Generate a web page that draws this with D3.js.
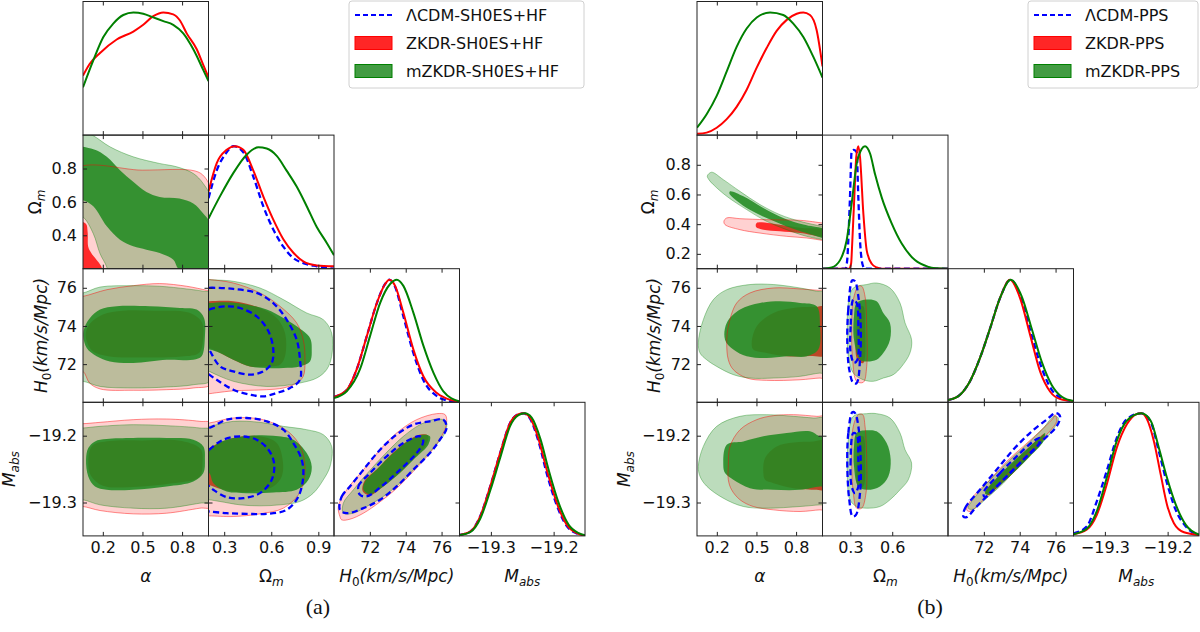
<!DOCTYPE html>
<html>
  <head>
    <meta charset="utf-8">
    <title>Triangle plots: LCDM, ZKDR and mZKDR</title>
    <script src="https://d3js.org/d3.v7.min.js"></script>
    <style>
      body { margin: 0; background: #fff; }
      svg { display: block; }
      .tick line { stroke: #222; }
      .tick text { fill: #111; }
    </style>
  </head>
  <body>
    <svg id="chart" width="1200" height="632"></svg>
    <script>
      // ---------- axes ----------
      const domA = [[0.05, 1.0], [0.2, 1.0], [70, 77], [-19.35, -19.15]];
      const domB = [[0.05, 1.0], [0.1, 1.0], [70, 77], [-19.35, -19.15]];
      const xTicksA = [[0.2, 0.5, 0.8], [0.3, 0.6, 0.9], [72, 74, 76], [-19.3, -19.2]];
      const yTicksA = [[], [0.4, 0.6, 0.8], [72, 74, 76], [-19.3, -19.2]];
      const xTicksB = [[0.2, 0.5, 0.8], [0.3, 0.6], [72, 74, 76], [-19.3, -19.2]];
      const yTicksB = [[], [0.2, 0.4, 0.6, 0.8], [72, 74, 76], [-19.3, -19.2]];
      const tickFmt = [".1f", ".1f", "d", ".1f"];
      const legendA = ["ΛCDM-SH0ES+HF", "ZKDR-SH0ES+HF", "mZKDR-SH0ES+HF"];
      const legendB = ["ΛCDM-PPS", "ZKDR-PPS", "mZKDR-PPS"];
      const captions = ["(a)", "(b)"];

      // ---------- 1D marginals (value, normalised density) : panel (a) ----------
      const a_al_zk = [[0.05,0.485],[0.1,0.58],[0.179,0.67],[0.305,0.78],[0.431,0.845],[0.506,0.90],[0.582,0.97],[0.658,1.0],[0.733,0.985],[0.784,0.935],[0.835,0.83],[0.911,0.70],[0.961,0.57],[1.0,0.47]];
      const a_al_mzk = [[0.05,0.39],[0.128,0.61],[0.204,0.80],[0.279,0.91],[0.355,0.98],[0.431,1.0],[0.506,0.99],[0.582,0.96],[0.658,0.93],[0.733,0.90],[0.809,0.83],[0.885,0.70],[0.961,0.53],[1.0,0.44]];
      const a_om_lcdm = [[0.2,0.575],[0.252,0.80],[0.316,0.95],[0.358,1.0],[0.422,0.95],[0.486,0.75],[0.549,0.51],[0.613,0.32],[0.677,0.18],[0.741,0.087],[0.804,0.046],[0.89,0.02],[1.0,0.0]];
      const a_om_zk = [[0.2,0.63],[0.252,0.86],[0.316,0.97],[0.369,1.0],[0.422,0.97],[0.486,0.80],[0.549,0.59],[0.613,0.40],[0.677,0.24],[0.741,0.13],[0.804,0.06],[0.89,0.027],[1.0,0.02]];
      const a_om_mzk = [[0.2,0.41],[0.273,0.59],[0.358,0.78],[0.443,0.93],[0.517,0.99],[0.571,0.98],[0.635,0.92],[0.698,0.80],[0.762,0.67],[0.826,0.51],[0.89,0.34],[0.954,0.21],[1.0,0.11]];
      const a_h0_lcdm = [[70,0.043],[70.71,0.10],[71.27,0.27],[71.83,0.54],[72.39,0.81],[72.85,0.965],[73.09,1.0],[73.41,0.94],[73.87,0.70],[74.43,0.40],[74.99,0.18],[75.74,0.05],[76.48,0.01],[77,0.0]];
      const a_h0_zk = [[70,0.043],[70.71,0.10],[71.27,0.27],[71.83,0.54],[72.39,0.81],[72.85,0.965],[73.09,1.0],[73.41,0.95],[73.87,0.73],[74.43,0.43],[74.99,0.21],[75.74,0.075],[76.48,0.02],[77,0.007]];
      const a_h0_mzk = [[70,0.035],[70.71,0.09],[71.45,0.27],[72.01,0.54],[72.57,0.81],[73.13,0.965],[73.5,1.0],[73.87,0.95],[74.43,0.73],[74.99,0.46],[75.55,0.24],[76.1,0.09],[77,0.007]];
      const a_mb_lcdm = [[-19.35,0.008],[-19.333,0.035],[-19.317,0.16],[-19.301,0.405],[-19.285,0.68],[-19.269,0.925],[-19.256,0.993],[-19.248,1.0],[-19.238,0.96],[-19.224,0.77],[-19.211,0.51],[-19.195,0.25],[-19.179,0.08],[-19.163,0.02],[-19.15,0.0]];
      const a_mb_zk = [[-19.35,0.008],[-19.333,0.035],[-19.317,0.16],[-19.301,0.405],[-19.285,0.68],[-19.269,0.925],[-19.256,0.993],[-19.248,1.0],[-19.238,0.966],[-19.224,0.79],[-19.211,0.54],[-19.195,0.27],[-19.179,0.09],[-19.163,0.022],[-19.15,0.0]];
      const a_mb_mzk = [[-19.35,0.006],[-19.333,0.03],[-19.317,0.14],[-19.301,0.37],[-19.285,0.64],[-19.269,0.9],[-19.256,0.985],[-19.246,1.0],[-19.235,0.965],[-19.221,0.79],[-19.208,0.54],[-19.192,0.27],[-19.176,0.09],[-19.16,0.022],[-19.15,0.005]];

      // ---------- 1D marginals : panel (b) ----------
      const b_al_zk = [[0.05,0.01],[0.123,0.02],[0.199,0.06],[0.275,0.13],[0.35,0.23],[0.426,0.37],[0.502,0.55],[0.577,0.71],[0.653,0.85],[0.729,0.94],[0.805,0.99],[0.855,1.0],[0.905,0.98],[0.955,0.86],[1.0,0.56]];
      const b_al_mzk = [[0.05,0.06],[0.123,0.17],[0.199,0.32],[0.275,0.52],[0.35,0.72],[0.426,0.87],[0.502,0.96],[0.603,1.0],[0.703,0.98],[0.779,0.91],[0.855,0.80],[0.93,0.64],[1.0,0.47]];
      const b_om_lcdm = [[0.1,0.0],[0.265,0.0],[0.278,0.08],[0.285,0.23],[0.297,0.58],[0.309,0.96],[0.325,0.97],[0.345,0.95],[0.357,0.58],[0.369,0.23],[0.38,0.08],[0.393,0.015],[0.40,0.0],[1.0,0.0]];
      const b_om_zk = [[0.1,0.0],[0.29,0.0],[0.305,0.04],[0.314,0.23],[0.328,0.58],[0.342,0.91],[0.357,1.0],[0.369,0.91],[0.393,0.45],[0.417,0.15],[0.453,0.04],[0.489,0.01],[0.52,0.0],[1.0,0.0]];
      const b_om_mzk = [[0.1,0.0],[0.166,0.01],[0.226,0.07],[0.273,0.23],[0.309,0.53],[0.345,0.855],[0.381,0.977],[0.405,1.0],[0.441,0.94],[0.477,0.77],[0.525,0.58],[0.596,0.37],[0.668,0.205],[0.763,0.07],[0.859,0.015],[0.895,0.005],[1.0,0.0]];
      const b_h0_lcdm = [[70,0.018],[70.66,0.06],[71.22,0.17],[71.78,0.36],[72.34,0.6],[72.9,0.85],[73.48,1.0],[74.08,0.85],[74.62,0.57],[75.2,0.29],[75.75,0.11],[76.3,0.035],[77,0.008]];
      const b_h0_zk = [[70,0.018],[70.66,0.06],[71.22,0.17],[71.78,0.36],[72.34,0.6],[72.9,0.85],[73.46,1.0],[74.02,0.85],[74.58,0.55],[75.14,0.25],[75.7,0.086],[76.26,0.026],[77,0.01]];
      const b_h0_mzk = [[70,0.018],[70.66,0.06],[71.22,0.17],[71.78,0.36],[72.34,0.6],[72.9,0.85],[73.5,1.0],[74.11,0.865],[74.67,0.6],[75.23,0.33],[75.79,0.14],[76.35,0.045],[77,0.01]];
      const b_mb_lcdm = [[-19.35,0.02],[-19.329,0.076],[-19.313,0.28],[-19.297,0.53],[-19.281,0.80],[-19.265,0.953],[-19.242,1.0],[-19.227,0.93],[-19.214,0.69],[-19.201,0.43],[-19.187,0.21],[-19.171,0.076],[-19.15,0.005]];
      const b_mb_zk = [[-19.35,0.014],[-19.329,0.05],[-19.313,0.17],[-19.297,0.42],[-19.281,0.72],[-19.265,0.91],[-19.249,0.995],[-19.242,1.0],[-19.233,0.953],[-19.222,0.775],[-19.211,0.50],[-19.201,0.255],[-19.19,0.104],[-19.174,0.03],[-19.15,0.008]];
      const b_mb_mzk = [[-19.35,0.014],[-19.329,0.058],[-19.313,0.2],[-19.297,0.474],[-19.281,0.775],[-19.265,0.94],[-19.242,1.0],[-19.227,0.94],[-19.214,0.72],[-19.201,0.474],[-19.187,0.255],[-19.171,0.09],[-19.15,0.01]];

      // ---------- 2D contours (x, y) : panel (a); 2 = 95%, 1 = 68% ----------
      const a_al_om_zk2 = [[-0.03,0.785],[0.5,0.79],[0.9,0.785],[0.97,0.75],[1.03,0.64],[1.03,0.1],[-0.03,0.1]];
      const a_al_om_zk1 = [[-0.03,0.48],[0.07,0.47],[0.085,0.42],[0.09,0.33],[0.116,0.29],[0.166,0.24],[0.19,0.21],[0.21,0.15],[0.2,0.1],[-0.03,0.1]];
      const a_al_om_mzk2 = [[-0.03,1.05],[0.12,1.0],[0.254,0.93],[0.43,0.87],[0.63,0.83],[0.76,0.81],[0.885,0.77],[0.96,0.71],[1.03,0.6],[1.03,0.1],[0.26,0.1],[0.23,0.21],[0.179,0.29],[0.128,0.41],[0.05,0.51],[-0.03,0.53]];
      const a_al_om_mzk1 = [[-0.03,0.92],[0.128,0.915],[0.23,0.87],[0.33,0.79],[0.43,0.72],[0.53,0.66],[0.63,0.63],[0.78,0.62],[0.885,0.59],[0.96,0.53],[1.03,0.45],[1.03,0.15],[0.85,0.15],[0.77,0.2],[0.734,0.254],[0.63,0.294],[0.53,0.314],[0.43,0.334],[0.33,0.374],[0.23,0.454],[0.128,0.574],[0.05,0.61],[-0.03,0.61]];

      const a_al_h0_zk2 = [[-0.03,75.5],[0.05,75.55],[0.23,75.9],[0.43,76.11],[0.63,76.22],[0.835,76.08],[0.985,75.87],[1.03,75.8],[1.03,71.0],[0.885,70.75],[0.68,70.66],[0.43,70.63],[0.18,70.7],[0.1,71.01],[0.05,71.62],[-0.03,71.7]];
      const a_al_h0_zk1 = [[0.07,73.5],[0.1,74.1],[0.2,74.6],[0.35,74.8],[0.6,74.8],[0.85,74.7],[0.95,74.2],[0.96,73.4],[0.93,72.6],[0.8,72.4],[0.5,72.35],[0.25,72.4],[0.12,72.7]];
      const a_al_h0_mzk2 = [[-0.03,75.7],[0.05,75.73],[0.18,76.04],[0.43,76.11],[0.63,76.08],[0.835,75.94],[0.96,75.82],[1.03,75.7],[1.03,71.2],[0.885,70.92],[0.68,70.8],[0.43,70.75],[0.18,70.83],[0.05,71.1],[-0.03,71.1]];
      const a_al_h0_mzk1 = [[0.053,73.46],[0.065,73.98],[0.103,74.42],[0.179,74.86],[0.305,75.03],[0.557,75.03],[0.784,74.94],[0.91,74.86],[0.966,74.42],[0.973,73.46],[0.948,72.41],[0.885,72.23],[0.683,72.23],[0.43,72.06],[0.254,72.14],[0.153,72.41],[0.078,72.84]];

      const a_al_mb_zk2 = [[-0.03,-19.182],[0.05,-19.182],[0.179,-19.18],[0.43,-19.176],[0.683,-19.175],[0.935,-19.1785],[1.03,-19.182],[1.03,-19.306],[0.935,-19.3085],[0.683,-19.316],[0.43,-19.317],[0.179,-19.312],[0.05,-19.306],[-0.03,-19.306]];
      const a_al_mb_zk1 = [[0.09,-19.24],[0.12,-19.215],[0.25,-19.208],[0.5,-19.207],[0.8,-19.208],[0.94,-19.22],[0.955,-19.24],[0.93,-19.262],[0.7,-19.272],[0.4,-19.277],[0.2,-19.275],[0.11,-19.26]];
      const a_al_mb_mzk2 = [[-0.03,-19.189],[0.05,-19.1885],[0.179,-19.186],[0.43,-19.1835],[0.683,-19.185],[0.935,-19.1885],[1.03,-19.192],[1.03,-19.298],[0.935,-19.301],[0.683,-19.3085],[0.43,-19.3085],[0.179,-19.3035],[0.05,-19.296],[-0.03,-19.296]];
      const a_al_mb_mzk1 = [[0.073,-19.236],[0.09,-19.2185],[0.141,-19.2085],[0.229,-19.205],[0.43,-19.2035],[0.683,-19.2035],[0.885,-19.206],[0.961,-19.216],[0.973,-19.236],[0.961,-19.256],[0.885,-19.2685],[0.683,-19.276],[0.43,-19.281],[0.229,-19.281],[0.141,-19.276],[0.09,-19.261]];

      const a_om_h0_lcdm2 = [[0.15,75.95],[0.205,76.0],[0.358,75.94],[0.507,75.73],[0.613,75.2],[0.698,74.33],[0.762,73.28],[0.783,72.23],[0.783,71.18],[0.72,70.75],[0.635,70.49],[0.55,70.31],[0.465,70.4],[0.358,70.66],[0.252,71.18],[0.205,71.45],[0.15,71.8]];
      const a_om_h0_lcdm1 = [[0.17,74.7],[0.205,74.86],[0.316,75.03],[0.401,74.94],[0.507,74.5],[0.582,73.72],[0.613,72.76],[0.603,72.06],[0.55,71.62],[0.465,71.45],[0.358,71.62],[0.274,71.88],[0.205,72.76],[0.17,73.3]];
      const a_om_h0_zk2 = [[0.15,76.45],[0.205,76.43],[0.358,76.25],[0.528,75.73],[0.656,75.03],[0.762,74.16],[0.804,73.28],[0.815,72.23],[0.804,71.36],[0.762,71.01],[0.677,70.75],[0.571,70.66],[0.465,70.63],[0.358,70.6],[0.25,70.5],[0.205,70.45],[0.15,70.4]];
      const a_om_h0_zk1 = [[0.15,75.25],[0.205,75.29],[0.358,75.29],[0.528,74.94],[0.635,74.42],[0.688,73.63],[0.688,72.41],[0.656,71.97],[0.571,71.88],[0.465,71.88],[0.358,72.23],[0.205,72.84],[0.15,72.9]];
      const a_om_h0_mzk2 = [[0.15,76.5],[0.205,76.43],[0.358,76.34],[0.528,75.99],[0.677,75.38],[0.826,74.68],[0.932,74.33],[0.985,73.63],[0.985,72.41],[0.953,71.71],[0.89,71.27],[0.783,71.01],[0.677,70.87],[0.571,70.83],[0.465,70.92],[0.358,71.1],[0.273,71.36],[0.205,71.62],[0.15,71.8]];
      const a_om_h0_mzk1 = [[0.15,75.2],[0.205,75.2],[0.316,75.24],[0.443,75.12],[0.571,74.86],[0.677,74.42],[0.762,73.98],[0.847,73.37],[0.858,72.76],[0.847,72.14],[0.783,71.88],[0.677,71.8],[0.571,71.8],[0.465,71.88],[0.358,72.23],[0.273,72.58],[0.205,72.76],[0.15,72.8]];

      const a_om_mb_lcdm2 = [[0.15,-19.19],[0.205,-19.1885],[0.316,-19.176],[0.443,-19.1735],[0.571,-19.1785],[0.677,-19.191],[0.741,-19.211],[0.794,-19.236],[0.804,-19.261],[0.773,-19.291],[0.698,-19.311],[0.571,-19.317],[0.443,-19.317],[0.316,-19.316],[0.205,-19.3135],[0.15,-19.313]];
      const a_om_mb_lcdm1 = [[0.15,-19.235],[0.205,-19.221],[0.294,-19.206],[0.401,-19.201],[0.507,-19.206],[0.582,-19.221],[0.618,-19.241],[0.603,-19.266],[0.528,-19.286],[0.422,-19.2935],[0.316,-19.292],[0.231,-19.281],[0.205,-19.276],[0.15,-19.262]];
      const a_om_mb_zk2 = [[0.15,-19.182],[0.205,-19.181],[0.358,-19.1735],[0.528,-19.175],[0.656,-19.186],[0.741,-19.201],[0.794,-19.221],[0.815,-19.246],[0.804,-19.271],[0.773,-19.2885],[0.677,-19.3085],[0.528,-19.317],[0.358,-19.321],[0.205,-19.32],[0.15,-19.32]];
      const a_om_mb_zk1 = [[0.15,-19.23],[0.205,-19.2185],[0.358,-19.2035],[0.528,-19.201],[0.635,-19.211],[0.673,-19.236],[0.667,-19.261],[0.613,-19.276],[0.486,-19.2835],[0.358,-19.2835],[0.231,-19.276],[0.15,-19.265]];
      const a_om_mb_mzk2 = [[0.15,-19.187],[0.205,-19.186],[0.358,-19.1785],[0.528,-19.18],[0.677,-19.186],[0.826,-19.191],[0.932,-19.1985],[0.985,-19.216],[0.975,-19.246],[0.932,-19.266],[0.868,-19.286],[0.783,-19.2985],[0.656,-19.3035],[0.528,-19.305],[0.401,-19.3035],[0.273,-19.2985],[0.205,-19.296],[0.15,-19.295]];
      const a_om_mb_mzk1 = [[0.15,-19.235],[0.231,-19.216],[0.316,-19.206],[0.465,-19.2],[0.613,-19.2],[0.741,-19.206],[0.826,-19.226],[0.858,-19.246],[0.837,-19.266],[0.762,-19.281],[0.613,-19.285],[0.443,-19.286],[0.316,-19.2835],[0.231,-19.271],[0.205,-19.256],[0.15,-19.25]];

      const a_h0_mb_lcdm2 = [[70.33,-19.311],[70.43,-19.291],[70.89,-19.276],[71.64,-19.251],[72.57,-19.221],[73.49,-19.1985],[74.42,-19.1835],[75.35,-19.1785],[76.1,-19.176],[76.28,-19.1885],[75.91,-19.206],[75.35,-19.226],[74.42,-19.251],[73.49,-19.276],[72.57,-19.296],[71.64,-19.3085],[70.71,-19.316]];
      const a_h0_mb_lcdm1 = [[71.45,-19.2885],[71.36,-19.276],[72.01,-19.256],[72.94,-19.231],[73.87,-19.211],[74.8,-19.201],[74.98,-19.2085],[74.61,-19.226],[73.68,-19.251],[72.75,-19.2735],[71.82,-19.291]];
      const a_h0_mb_zk2 = [[70.33,-19.321],[70.24,-19.306],[70.71,-19.281],[71.64,-19.251],[72.57,-19.221],[73.49,-19.196],[74.61,-19.176],[75.73,-19.167],[76.2,-19.1685],[76.28,-19.181],[76.0,-19.201],[75.35,-19.226],[74.42,-19.2535],[73.49,-19.279],[72.57,-19.299],[71.64,-19.316],[70.89,-19.325],[70.43,-19.326]];
      const a_h0_mb_zk1 = [[71.6,-19.283],[71.7,-19.268],[72.4,-19.25],[73.3,-19.225],[74.2,-19.206],[74.9,-19.198],[75.25,-19.2],[75.15,-19.213],[74.45,-19.234],[73.6,-19.257],[72.7,-19.277],[72.0,-19.289]];
      const a_h0_mb_mzk2 = [[70.52,-19.316],[70.52,-19.301],[71.08,-19.281],[72.0,-19.252],[72.9,-19.226],[73.87,-19.201],[74.8,-19.1835],[75.73,-19.175],[76.25,-19.1785],[76.19,-19.196],[75.54,-19.2185],[74.61,-19.246],[73.68,-19.271],[72.75,-19.291],[71.82,-19.306],[71.08,-19.316]];
      const a_h0_mb_mzk1 = [[71.64,-19.281],[71.73,-19.2685],[72.38,-19.251],[73.31,-19.226],[74.24,-19.206],[74.98,-19.1985],[75.35,-19.201],[75.26,-19.2135],[74.52,-19.2335],[73.68,-19.256],[72.75,-19.276],[72.01,-19.2875]];

      // ---------- 2D contours : panel (b) ----------
      const b_al_om_zk2 = [[0.254,0.42],[0.275,0.442],[0.375,0.437],[0.577,0.43],[0.83,0.426],[0.999,0.408],[1.03,0.405],[1.03,0.288],[0.999,0.291],[0.88,0.307],[0.729,0.318],[0.527,0.34],[0.375,0.363],[0.262,0.397]];
      const b_al_om_zk1 = [[0.497,0.381],[0.502,0.408],[0.628,0.403],[0.729,0.39],[0.85,0.375],[1.03,0.36],[1.03,0.32],[0.83,0.34],[0.678,0.352],[0.552,0.363]];
      const b_al_om_mzk2 = [[0.128,0.725],[0.16,0.75],[0.249,0.70],[0.375,0.621],[0.527,0.532],[0.678,0.464],[0.83,0.419],[0.999,0.385],[1.03,0.38],[1.03,0.29],[0.999,0.296],[0.88,0.318],[0.729,0.363],[0.577,0.419],[0.426,0.498],[0.275,0.588],[0.174,0.666],[0.14,0.7]];
      const b_al_om_mzk1 = [[0.295,0.606],[0.30,0.621],[0.401,0.588],[0.552,0.509],[0.703,0.442],[0.855,0.397],[0.999,0.374],[1.03,0.37],[1.03,0.30],[0.999,0.307],[0.88,0.34],[0.729,0.385],[0.577,0.441],[0.426,0.509],[0.325,0.576]];

      const b_al_h0_zk2 = [[0.275,73.11],[0.287,73.98],[0.35,75.2],[0.451,75.73],[0.628,75.99],[0.83,75.94],[0.968,75.87],[1.03,75.85],[1.03,71.25],[0.981,71.27],[0.83,71.18],[0.577,71.15],[0.426,71.27],[0.325,71.71],[0.287,72.23]];
      const b_al_h0_zk1 = [[0.464,73.11],[0.502,73.98],[0.628,74.68],[0.78,74.94],[0.95,75.0],[1.03,75.0],[1.03,72.5],[0.9,72.42],[0.729,72.41],[0.577,72.58],[0.476,72.76]];
      const b_al_h0_mzk2 = [[0.06,73.11],[0.098,74.33],[0.174,75.38],[0.275,75.9],[0.451,76.17],[0.628,76.17],[0.83,75.99],[0.956,75.82],[1.03,75.75],[1.03,71.5],[0.981,71.53],[0.83,71.36],[0.628,71.27],[0.451,71.27],[0.325,71.45],[0.199,71.88],[0.123,72.23],[0.073,72.58]];
      const b_al_h0_mzk1 = [[0.262,73.28],[0.275,74.16],[0.376,74.86],[0.527,75.2],[0.678,75.29],[0.83,75.2],[0.956,75.03],[0.981,73.98],[0.968,72.76],[0.88,72.41],[0.729,72.41],[0.577,72.32],[0.426,72.41],[0.325,72.76]];

      const b_al_mb_zk2 = [[0.287,-19.246],[0.3,-19.216],[0.376,-19.191],[0.502,-19.176],[0.628,-19.17],[0.78,-19.1685],[0.956,-19.171],[1.03,-19.172],[1.03,-19.311],[0.981,-19.311],[0.83,-19.3135],[0.628,-19.311],[0.476,-19.306],[0.376,-19.296],[0.312,-19.281],[0.287,-19.266]];
      const b_al_mb_zk1 = [[0.552,-19.256],[0.565,-19.2335],[0.653,-19.216],[0.78,-19.21],[0.93,-19.2085],[1.03,-19.208],[1.03,-19.281],[0.956,-19.281],[0.78,-19.2785],[0.628,-19.271],[0.565,-19.266]];
      const b_al_mb_mzk2 = [[0.06,-19.246],[0.098,-19.216],[0.199,-19.186],[0.376,-19.171],[0.577,-19.1685],[0.78,-19.171],[0.93,-19.1735],[1.03,-19.175],[1.03,-19.303],[0.981,-19.3035],[0.83,-19.306],[0.577,-19.3085],[0.401,-19.306],[0.249,-19.2935],[0.123,-19.2755],[0.073,-19.261]];
      const b_al_mb_mzk1 = [[0.249,-19.2435],[0.275,-19.2135],[0.401,-19.2085],[0.552,-19.201],[0.729,-19.196],[0.905,-19.1935],[0.981,-19.201],[1.03,-19.2],[1.03,-19.276],[0.981,-19.276],[0.83,-19.281],[0.628,-19.281],[0.451,-19.2785],[0.325,-19.266],[0.262,-19.256]];

      const b_om_h0_lcdm2 = [[0.314,76.39],[0.285,74.86],[0.278,73.11],[0.292,71.71],[0.321,71.01],[0.345,71.01],[0.369,72.23],[0.374,73.98],[0.357,75.55],[0.333,76.34]];
      const b_om_h0_lcdm1 = [[0.321,75.38],[0.302,73.98],[0.302,72.58],[0.326,72.06],[0.35,72.23],[0.357,73.98],[0.345,75.2]];
      const b_om_h0_zk2 = [[0.357,76.08],[0.321,75.38],[0.309,73.98],[0.316,72.23],[0.345,71.1],[0.393,71.05],[0.417,71.88],[0.417,73.98],[0.405,75.55],[0.381,76.08]];
      const b_om_h0_zk1 = [[0.369,75.03],[0.345,73.98],[0.35,72.23],[0.393,72.06],[0.405,73.98],[0.393,75.03]];
      const b_om_h0_mzk2 = [[0.321,75.99],[0.417,76.17],[0.488,76.25],[0.584,75.99],[0.656,75.2],[0.692,74.16],[0.739,73.28],[0.727,72.58],[0.668,71.88],[0.608,71.45],[0.536,71.27],[0.464,71.1],[0.393,71.18],[0.321,71.53],[0.285,72.41],[0.278,73.98],[0.285,75.2]];
      const b_om_h0_mzk1 = [[0.345,75.2],[0.417,75.38],[0.488,75.29],[0.536,74.68],[0.584,74.16],[0.584,73.28],[0.536,72.58],[0.488,72.23],[0.417,72.14],[0.369,72.23],[0.326,73.28],[0.326,74.51]];

      const b_om_mb_lcdm2 = [[0.314,-19.165],[0.285,-19.196],[0.278,-19.246],[0.292,-19.296],[0.316,-19.321],[0.34,-19.3185],[0.369,-19.286],[0.374,-19.236],[0.357,-19.186],[0.333,-19.166]];
      const b_om_mb_lcdm1 = [[0.321,-19.196],[0.302,-19.236],[0.309,-19.276],[0.333,-19.286],[0.357,-19.276],[0.357,-19.236],[0.345,-19.1985]];
      const b_om_mb_zk2 = [[0.357,-19.1685],[0.321,-19.186],[0.309,-19.236],[0.321,-19.286],[0.345,-19.3085],[0.381,-19.3085],[0.412,-19.286],[0.417,-19.236],[0.405,-19.186],[0.388,-19.1685]];
      const b_om_mb_zk1 = [[0.364,-19.201],[0.345,-19.236],[0.357,-19.276],[0.393,-19.276],[0.405,-19.236],[0.393,-19.201]];
      const b_om_mb_mzk2 = [[0.321,-19.171],[0.417,-19.167],[0.488,-19.167],[0.584,-19.1735],[0.656,-19.196],[0.692,-19.221],[0.739,-19.241],[0.715,-19.266],[0.656,-19.281],[0.584,-19.296],[0.512,-19.306],[0.417,-19.3085],[0.345,-19.306],[0.297,-19.296],[0.278,-19.261],[0.285,-19.206]];
      const b_om_mb_mzk1 = [[0.345,-19.196],[0.417,-19.192],[0.488,-19.1935],[0.56,-19.211],[0.589,-19.236],[0.572,-19.261],[0.512,-19.276],[0.417,-19.281],[0.357,-19.276],[0.326,-19.246],[0.326,-19.216]];

      const b_h0_mb_lcdm2 = [[70.86,-19.321],[70.95,-19.3085],[71.78,-19.281],[72.71,-19.251],[73.64,-19.221],[74.57,-19.196],[75.5,-19.176],[76.02,-19.166],[76.25,-19.171],[76.06,-19.186],[75.32,-19.206],[74.39,-19.231],[73.46,-19.256],[72.53,-19.281],[71.6,-19.306],[71.04,-19.322]];
      const b_h0_mb_lcdm1 = [[71.97,-19.286],[72.9,-19.256],[73.83,-19.231],[74.76,-19.2085],[75.13,-19.2035],[75.04,-19.2135],[74.2,-19.236],[73.27,-19.261],[72.34,-19.286],[72.06,-19.292]];
      const b_h0_mb_zk2 = [[71.04,-19.311],[71.41,-19.291],[72.34,-19.266],[73.27,-19.2385],[74.2,-19.216],[75.13,-19.1935],[75.87,-19.1735],[75.97,-19.1685],[76.06,-19.1785],[75.41,-19.201],[74.57,-19.2235],[73.64,-19.2485],[72.71,-19.276],[71.78,-19.301],[71.23,-19.3135]];
      const b_h0_mb_zk1 = [[72.1,-19.284],[72.8,-19.262],[73.7,-19.238],[74.6,-19.215],[75.2,-19.2],[75.35,-19.197],[75.25,-19.209],[74.5,-19.232],[73.6,-19.257],[72.7,-19.279],[72.25,-19.289]];
      const b_h0_mb_mzk2 = [[71.13,-19.3085],[71.6,-19.2885],[72.53,-19.261],[73.46,-19.236],[74.39,-19.2135],[75.32,-19.1885],[75.91,-19.171],[76.15,-19.1735],[75.87,-19.191],[74.94,-19.2185],[74.02,-19.2435],[73.09,-19.271],[72.16,-19.2935],[71.41,-19.31]];
      const b_h0_mb_mzk1 = [[72.06,-19.286],[72.71,-19.2635],[73.64,-19.2385],[74.57,-19.216],[75.22,-19.201],[75.41,-19.196],[75.32,-19.2085],[74.57,-19.231],[73.64,-19.256],[72.71,-19.2785],[72.25,-19.2885]];

      // ---------- tables built from the arrays ----------
      const diagA = [
        {zk: a_al_zk, mzk: a_al_mzk},
        {lcdm: a_om_lcdm, zk: a_om_zk, mzk: a_om_mzk},
        {lcdm: a_h0_lcdm, zk: a_h0_zk, mzk: a_h0_mzk},
        {lcdm: a_mb_lcdm, zk: a_mb_zk, mzk: a_mb_mzk}
      ];
      const diagB = [
        {zk: b_al_zk, mzk: b_al_mzk},
        {lcdm: b_om_lcdm, zk: b_om_zk, mzk: b_om_mzk},
        {lcdm: b_h0_lcdm, zk: b_h0_zk, mzk: b_h0_mzk},
        {lcdm: b_mb_lcdm, zk: b_mb_zk, mzk: b_mb_mzk}
      ];
      // key: column + row
      const pairsA = {
        "01": {zk: [a_al_om_zk2, a_al_om_zk1], mzk: [a_al_om_mzk2, a_al_om_mzk1]},
        "02": {zk: [a_al_h0_zk2, a_al_h0_zk1], mzk: [a_al_h0_mzk2, a_al_h0_mzk1]},
        "03": {zk: [a_al_mb_zk2, a_al_mb_zk1], mzk: [a_al_mb_mzk2, a_al_mb_mzk1]},
        "12": {lcdm: [a_om_h0_lcdm2, a_om_h0_lcdm1], zk: [a_om_h0_zk2, a_om_h0_zk1], mzk: [a_om_h0_mzk2, a_om_h0_mzk1]},
        "13": {lcdm: [a_om_mb_lcdm2, a_om_mb_lcdm1], zk: [a_om_mb_zk2, a_om_mb_zk1], mzk: [a_om_mb_mzk2, a_om_mb_mzk1]},
        "23": {lcdm: [a_h0_mb_lcdm2, a_h0_mb_lcdm1], zk: [a_h0_mb_zk2, a_h0_mb_zk1], mzk: [a_h0_mb_mzk2, a_h0_mb_mzk1]}
      };
      const pairsB = {
        "01": {zk: [b_al_om_zk2, b_al_om_zk1], mzk: [b_al_om_mzk2, b_al_om_mzk1]},
        "02": {zk: [b_al_h0_zk2, b_al_h0_zk1], mzk: [b_al_h0_mzk2, b_al_h0_mzk1]},
        "03": {zk: [b_al_mb_zk2, b_al_mb_zk1], mzk: [b_al_mb_mzk2, b_al_mb_mzk1]},
        "12": {lcdm: [b_om_h0_lcdm2, b_om_h0_lcdm1], zk: [b_om_h0_zk2, b_om_h0_zk1], mzk: [b_om_h0_mzk2, b_om_h0_mzk1]},
        "13": {lcdm: [b_om_mb_lcdm2, b_om_mb_lcdm1], zk: [b_om_mb_zk2, b_om_mb_zk1], mzk: [b_om_mb_mzk2, b_om_mb_mzk1]},
        "23": {lcdm: [b_h0_mb_lcdm2, b_h0_mb_lcdm1], zk: [b_h0_mb_zk2, b_h0_mb_zk1], mzk: [b_h0_mb_mzk2, b_h0_mb_mzk1]}
      };

      // ---------- layout ----------
      const cellW = 125.5, cellH = 133.6, top0 = 1.5;
      const RED = "#ff0000", GREEN = "#008000", FILLGREEN = "#228b22", BLUE = "#0000ff";
      const FONT = "DejaVu Sans";
      const sides = [
        {id: "a", x0: 83, dom: domA, xt: xTicksA, yt: yTicksA, diag: diagA, pairs: pairsA,
         legend: legendA, lx: 349, lw: 235, ylab: [0, 41, 47, 15], cap: captions[0], capX: 318},
        {id: "b", x0: 697, dom: domB, xt: xTicksB, yt: yTicksB, diag: diagB, pairs: pairsB,
         legend: legendB, lx: 1028, lw: 170, ylab: [0, 654, 660, 630], cap: captions[1], capX: 930}
      ];

      const svg = d3.select("#chart");
      const defs = svg.append("defs");

      // label pieces: [text, italic, subscript]
      const labels = [
        [["α", true, false]],
        [["Ω", false, false], ["m", true, true]],
        [["H", true, false], ["0", false, true], ["(km/s/Mpc)", true, false]],
        [["M", true, false], ["abs", true, true]]
      ];
      function writeLabel(text, parts) {
        parts.forEach(function(p, i) {
          const prevSub = i > 0 && parts[i - 1][2];
          text.append("tspan")
            .text(p[0])
            .attr("font-style", p[1] ? "italic" : "normal")
            .attr("font-size", p[2] ? 12 : 17)
            .attr("dy", p[2] ? 4 : (prevSub ? -4 : 0));
        });
      }

      function styleAxis(g) {
        g.select(".domain").remove();
        g.attr("font-family", FONT).attr("font-size", 16);
        g.selectAll(".tick line").attr("stroke", "#222");
      }

      sides.forEach(function(side) {
        const xs = side.dom.map(function(d, i) {
          return d3.scaleLinear().domain(d).range([side.x0 + i * cellW, side.x0 + (i + 1) * cellW]);
        });
        const ys = side.dom.map(function(d, i) {
          return d3.scaleLinear().domain(d).range([top0 + (i + 1) * cellH, top0 + i * cellH]);
        });

        for (let r = 0; r < 4; r++) {
          for (let c = 0; c <= r; c++) {
            const left = xs[c].range()[0], right = xs[c].range()[1];
            const bottom = ys[r].range()[0], top = ys[r].range()[1];
            const cell = svg.append("g");
            const clipId = "clip-" + side.id + r + c;
            defs.append("clipPath").attr("id", clipId)
              .append("rect")
                .attr("x", left).attr("y", top)
                .attr("width", cellW).attr("height", cellH);
            const body = cell.append("g").attr("clip-path", "url(#" + clipId + ")");

            if (r === c) {
              // 1D marginal
              const yd = d3.scaleLinear().domain([0, 1.09]).range([bottom, top]);
              const line = d3.line()
                .x(function(d) { return xs[c](d[0]); })
                .y(function(d) { return yd(d[1]); })
                .curve(d3.curveMonotoneX);
              const dg = side.diag[c];
              if (dg.lcdm) body.append("path").attr("d", line(dg.lcdm))
                .attr("fill", "none").attr("stroke", BLUE).attr("stroke-width", 2.3)
                .attr("stroke-dasharray", "6,3.5");
              body.append("path").attr("d", line(dg.zk))
                .attr("fill", "none").attr("stroke", RED).attr("stroke-width", 2);
              body.append("path").attr("d", line(dg.mzk))
                .attr("fill", "none").attr("stroke", GREEN).attr("stroke-width", 2);
            } else {
              // 2D contours
              const pr = side.pairs["" + c + r];
              const line = d3.line()
                .x(function(d) { return xs[c](d[0]); })
                .y(function(d) { return ys[r](d[1]); })
                .curve(d3.curveCatmullRomClosed.alpha(0.5));
              body.append("path").attr("d", line(pr.zk[0])).attr("fill", RED).attr("fill-opacity", 0.18);
              body.append("path").attr("d", line(pr.zk[1])).attr("fill", RED).attr("fill-opacity", 0.8);
              body.append("path").attr("d", line(pr.mzk[0])).attr("fill", FILLGREEN).attr("fill-opacity", 0.3);
              body.append("path").attr("d", line(pr.mzk[1])).attr("fill", FILLGREEN).attr("fill-opacity", 0.88);
              body.append("path").attr("d", line(pr.zk[0])).attr("fill", "none")
                .attr("stroke", RED).attr("stroke-opacity", 0.45).attr("stroke-width", 1);
              body.append("path").attr("d", line(pr.mzk[0])).attr("fill", "none")
                .attr("stroke", GREEN).attr("stroke-opacity", 0.35).attr("stroke-width", 1);
              if (pr.lcdm) {
                pr.lcdm.forEach(function(ring) {
                  body.append("path").attr("d", line(ring)).attr("fill", "none")
                    .attr("stroke", BLUE).attr("stroke-width", 2.3).attr("stroke-dasharray", "6,3.5");
                });
              }
            }

            // ticks, all pointing inward
            const fx = d3.format(tickFmt[c]);
            cell.append("g").attr("transform", "translate(0," + bottom + ")")
              .call(d3.axisBottom(xs[c]).tickValues(side.xt[c]).tickSizeInner(-4).tickSizeOuter(0)
                .tickPadding(6).tickFormat(r === 3 ? fx : ""))
              .call(styleAxis);
            cell.append("g").attr("transform", "translate(0," + top + ")")
              .call(d3.axisTop(xs[c]).tickValues(side.xt[c]).tickSizeInner(-4).tickSizeOuter(0).tickFormat(""))
              .call(styleAxis);
            if (c < r) {
              const fy = d3.format(tickFmt[r]);
              cell.append("g").attr("transform", "translate(" + left + ",0)")
                .call(d3.axisLeft(ys[r]).tickValues(side.yt[r]).tickSizeInner(-4).tickSizeOuter(0)
                  .tickPadding(6).tickFormat(c === 0 ? fy : ""))
                .call(styleAxis);
              cell.append("g").attr("transform", "translate(" + right + ",0)")
                .call(d3.axisRight(ys[r]).tickValues(side.yt[r]).tickSizeInner(-4).tickSizeOuter(0).tickFormat(""))
                .call(styleAxis);
            }
            cell.append("rect")
              .attr("x", left).attr("y", top)
              .attr("width", cellW).attr("height", cellH)
              .attr("fill", "none").attr("stroke", "#222").attr("stroke-width", 1);
          }
        }

        // axis titles
        labels.forEach(function(parts, i) {
          const t = svg.append("text")
            .attr("x", (xs[i].range()[0] + xs[i].range()[1]) / 2)
            .attr("y", 582)
            .attr("text-anchor", "middle")
            .attr("font-family", FONT)
            .attr("fill", "#111");
          writeLabel(t, parts);
          if (i > 0) {
            const cy = (ys[i].range()[0] + ys[i].range()[1]) / 2;
            const ty = svg.append("text")
              .attr("transform", "translate(" + side.ylab[i] + "," + cy + ") rotate(-90)")
              .attr("text-anchor", "middle")
              .attr("font-family", FONT)
              .attr("fill", "#111");
            writeLabel(ty, parts);
          }
        });

        // legend
        const lg = svg.append("g").attr("font-family", FONT).attr("font-size", 16);
        lg.append("rect")
          .attr("x", side.lx).attr("y", 1)
          .attr("width", side.lw).attr("height", 87)
          .attr("rx", 3)
          .attr("fill", "#fff").attr("fill-opacity", 0.8)
          .attr("stroke", "#d0d0d0");
        side.legend.forEach(function(name, i) {
          const y = 15 + i * 28;
          const hx = side.lx + 6;
          if (i === 0) {
            lg.append("line")
              .attr("x1", hx).attr("x2", hx + 37).attr("y1", y).attr("y2", y)
              .attr("stroke", BLUE).attr("stroke-width", 2).attr("stroke-dasharray", "5,3");
          } else {
            lg.append("rect")
              .attr("x", hx).attr("y", y - 6.5).attr("width", 37).attr("height", 13)
              .attr("fill", i === 1 ? RED : FILLGREEN).attr("fill-opacity", 0.85)
              .attr("stroke", i === 1 ? RED : GREEN).attr("stroke-width", 1);
          }
          lg.append("text")
            .attr("x", side.lx + 57).attr("y", y)
            .attr("dy", "0.35em")
            .attr("fill", "#111")
            .text(name);
        });

        // caption
        svg.append("text")
          .attr("x", side.capX).attr("y", 614)
          .attr("text-anchor", "middle")
          .attr("font-family", "Liberation Serif")
          .attr("font-size", 22)
          .attr("fill", "#111")
          .text(side.cap);
      });
    </script>
  </body>
</html>
